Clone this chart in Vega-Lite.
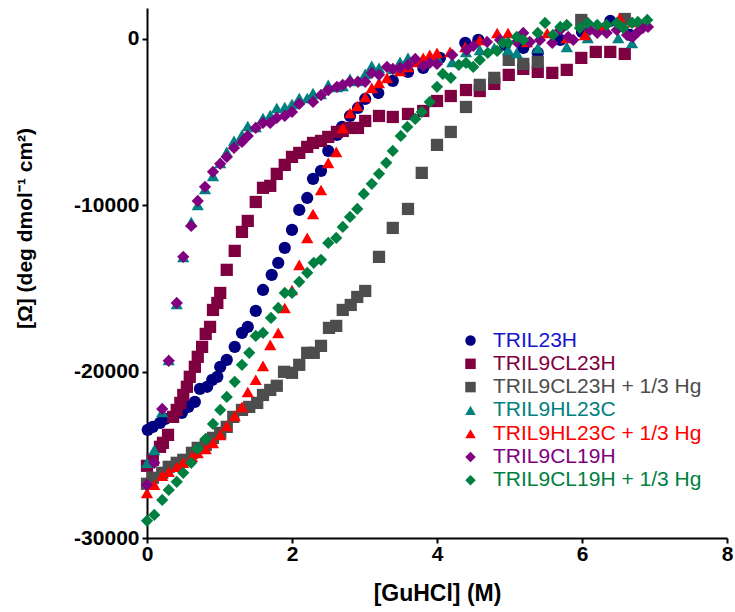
{
"$schema": "https://vega.github.io/schema/vega-lite/v6.json",
"width": 580, "height": 530,
"autosize": "none",
"padding": {"left": 147, "top": 8, "right": 8, "bottom": 74},
"background": "white",
"config": {"view": {"stroke": null}, "font": "Liberation Sans"},
"datasets": {"d": [
{"s":"TRIL23H","x":0.01,"y":-23500},{"s":"TRIL23H","x":0.08,"y":-23320},{"s":"TRIL23H","x":0.18,"y":-23080},{"s":"TRIL23H","x":0.25,"y":-22840},{"s":"TRIL23H","x":0.36,"y":-22720},{"s":"TRIL23H","x":0.48,"y":-22480},{"s":"TRIL23H","x":0.57,"y":-22120},{"s":"TRIL23H","x":0.66,"y":-21820},{"s":"TRIL23H","x":0.73,"y":-21040},{"s":"TRIL23H","x":0.83,"y":-20910},{"s":"TRIL23H","x":0.90,"y":-20490},{"s":"TRIL23H","x":0.97,"y":-20310},{"s":"TRIL23H","x":1.01,"y":-19710},{"s":"TRIL23H","x":1.10,"y":-19290},{"s":"TRIL23H","x":1.21,"y":-18510},{"s":"TRIL23H","x":1.31,"y":-17670},{"s":"TRIL23H","x":1.39,"y":-17310},{"s":"TRIL23H","x":1.50,"y":-16350},{"s":"TRIL23H","x":1.60,"y":-15090},{"s":"TRIL23H","x":1.72,"y":-14180},{"s":"TRIL23H","x":1.81,"y":-13460},{"s":"TRIL23H","x":1.90,"y":-12560},{"s":"TRIL23H","x":2.00,"y":-11480},{"s":"TRIL23H","x":2.10,"y":-10280},{"s":"TRIL23H","x":2.21,"y":-9560},{"s":"TRIL23H","x":2.29,"y":-8410},{"s":"TRIL23H","x":2.40,"y":-7930},{"s":"TRIL23H","x":2.50,"y":-6730},{"s":"TRIL23H","x":2.62,"y":-5770},{"s":"TRIL23H","x":2.69,"y":-5290},{"s":"TRIL23H","x":2.80,"y":-4630},{"s":"TRIL23H","x":2.91,"y":-4150},{"s":"TRIL23H","x":3.01,"y":-3610},{"s":"TRIL23H","x":3.19,"y":-3250},{"s":"TRIL23H","x":3.39,"y":-2520},{"s":"TRIL23H","x":3.60,"y":-1980},{"s":"TRIL23H","x":3.81,"y":-1740},{"s":"TRIL23H","x":4.04,"y":-1140},{"s":"TRIL23H","x":4.39,"y":-240},{"s":"TRIL23H","x":4.57,"y":-60},{"s":"TRIL23H","x":4.94,"y":-360},{"s":"TRIL23H","x":5.19,"y":-540},{"s":"TRIL23H","x":5.39,"y":-840},{"s":"TRIL23H","x":5.70,"y":-60},{"s":"TRIL23H","x":6.00,"y":420},{"s":"TRIL23H","x":6.39,"y":1080},{"s":"TRIL23H","x":6.66,"y":240},
{"s":"TRIL9CL23H","x":0.00,"y":-25660},{"s":"TRIL9CL23H","x":0.08,"y":-25300},{"s":"TRIL9CL23H","x":0.18,"y":-24520},{"s":"TRIL9CL23H","x":0.22,"y":-24280},{"s":"TRIL9CL23H","x":0.29,"y":-23800},{"s":"TRIL9CL23H","x":0.36,"y":-22720},{"s":"TRIL9CL23H","x":0.41,"y":-22300},{"s":"TRIL9CL23H","x":0.46,"y":-21880},{"s":"TRIL9CL23H","x":0.50,"y":-21400},{"s":"TRIL9CL23H","x":0.55,"y":-20910},{"s":"TRIL9CL23H","x":0.59,"y":-20310},{"s":"TRIL9CL23H","x":0.66,"y":-19710},{"s":"TRIL9CL23H","x":0.70,"y":-19110},{"s":"TRIL9CL23H","x":0.76,"y":-18510},{"s":"TRIL9CL23H","x":0.81,"y":-17730},{"s":"TRIL9CL23H","x":0.87,"y":-17310},{"s":"TRIL9CL23H","x":0.91,"y":-16290},{"s":"TRIL9CL23H","x":0.97,"y":-15870},{"s":"TRIL9CL23H","x":1.01,"y":-15270},{"s":"TRIL9CL23H","x":1.10,"y":-13880},{"s":"TRIL9CL23H","x":1.21,"y":-12740},{"s":"TRIL9CL23H","x":1.31,"y":-11600},{"s":"TRIL9CL23H","x":1.39,"y":-10940},{"s":"TRIL9CL23H","x":1.50,"y":-9800},{"s":"TRIL9CL23H","x":1.60,"y":-8950},{"s":"TRIL9CL23H","x":1.70,"y":-8830},{"s":"TRIL9CL23H","x":1.79,"y":-8110},{"s":"TRIL9CL23H","x":1.90,"y":-7570},{"s":"TRIL9CL23H","x":2.00,"y":-7090},{"s":"TRIL9CL23H","x":2.10,"y":-6850},{"s":"TRIL9CL23H","x":2.21,"y":-6490},{"s":"TRIL9CL23H","x":2.29,"y":-6250},{"s":"TRIL9CL23H","x":2.40,"y":-6130},{"s":"TRIL9CL23H","x":2.50,"y":-5890},{"s":"TRIL9CL23H","x":2.62,"y":-5590},{"s":"TRIL9CL23H","x":2.70,"y":-5530},{"s":"TRIL9CL23H","x":2.80,"y":-5350},{"s":"TRIL9CL23H","x":2.91,"y":-5350},{"s":"TRIL9CL23H","x":3.01,"y":-4930},{"s":"TRIL9CL23H","x":3.20,"y":-4630},{"s":"TRIL9CL23H","x":3.39,"y":-4690},{"s":"TRIL9CL23H","x":3.60,"y":-4510},{"s":"TRIL9CL23H","x":3.81,"y":-4330},{"s":"TRIL9CL23H","x":4.00,"y":-3730},{"s":"TRIL9CL23H","x":4.19,"y":-3430},{"s":"TRIL9CL23H","x":4.40,"y":-3070},{"s":"TRIL9CL23H","x":4.59,"y":-3130},{"s":"TRIL9CL23H","x":4.79,"y":-2700},{"s":"TRIL9CL23H","x":4.99,"y":-2160},{"s":"TRIL9CL23H","x":5.19,"y":-1800},{"s":"TRIL9CL23H","x":5.39,"y":-1980},{"s":"TRIL9CL23H","x":5.59,"y":-2040},{"s":"TRIL9CL23H","x":5.79,"y":-1860},{"s":"TRIL9CL23H","x":5.99,"y":-1140},{"s":"TRIL9CL23H","x":6.19,"y":-780},{"s":"TRIL9CL23H","x":6.39,"y":-780},{"s":"TRIL9CL23H","x":6.59,"y":-900},
{"s":"TRIL9CL23H + 1/3 Hg","x":0.00,"y":-26740},{"s":"TRIL9CL23H + 1/3 Hg","x":0.08,"y":-26380},{"s":"TRIL9CL23H + 1/3 Hg","x":0.21,"y":-26080},{"s":"TRIL9CL23H + 1/3 Hg","x":0.30,"y":-25720},{"s":"TRIL9CL23H + 1/3 Hg","x":0.41,"y":-25480},{"s":"TRIL9CL23H + 1/3 Hg","x":0.50,"y":-25300},{"s":"TRIL9CL23H + 1/3 Hg","x":0.62,"y":-24880},{"s":"TRIL9CL23H + 1/3 Hg","x":0.70,"y":-24580},{"s":"TRIL9CL23H + 1/3 Hg","x":0.81,"y":-24400},{"s":"TRIL9CL23H + 1/3 Hg","x":0.91,"y":-23980},{"s":"TRIL9CL23H + 1/3 Hg","x":1.01,"y":-23680},{"s":"TRIL9CL23H + 1/3 Hg","x":1.10,"y":-23320},{"s":"TRIL9CL23H + 1/3 Hg","x":1.19,"y":-22720},{"s":"TRIL9CL23H + 1/3 Hg","x":1.31,"y":-22300},{"s":"TRIL9CL23H + 1/3 Hg","x":1.41,"y":-22120},{"s":"TRIL9CL23H + 1/3 Hg","x":1.52,"y":-21880},{"s":"TRIL9CL23H + 1/3 Hg","x":1.60,"y":-21400},{"s":"TRIL9CL23H + 1/3 Hg","x":1.70,"y":-21100},{"s":"TRIL9CL23H + 1/3 Hg","x":1.79,"y":-20850},{"s":"TRIL9CL23H + 1/3 Hg","x":1.89,"y":-20010},{"s":"TRIL9CL23H + 1/3 Hg","x":2.00,"y":-20070},{"s":"TRIL9CL23H + 1/3 Hg","x":2.10,"y":-19590},{"s":"TRIL9CL23H + 1/3 Hg","x":2.21,"y":-18870},{"s":"TRIL9CL23H + 1/3 Hg","x":2.30,"y":-18870},{"s":"TRIL9CL23H + 1/3 Hg","x":2.40,"y":-18450},{"s":"TRIL9CL23H + 1/3 Hg","x":2.51,"y":-17370},{"s":"TRIL9CL23H + 1/3 Hg","x":2.61,"y":-17250},{"s":"TRIL9CL23H + 1/3 Hg","x":2.70,"y":-16290},{"s":"TRIL9CL23H + 1/3 Hg","x":2.81,"y":-15990},{"s":"TRIL9CL23H + 1/3 Hg","x":2.90,"y":-15510},{"s":"TRIL9CL23H + 1/3 Hg","x":3.01,"y":-15150},{"s":"TRIL9CL23H + 1/3 Hg","x":3.20,"y":-13100},{"s":"TRIL9CL23H + 1/3 Hg","x":3.39,"y":-11360},{"s":"TRIL9CL23H + 1/3 Hg","x":3.60,"y":-10220},{"s":"TRIL9CL23H + 1/3 Hg","x":3.79,"y":-8050},{"s":"TRIL9CL23H + 1/3 Hg","x":4.00,"y":-6370},{"s":"TRIL9CL23H + 1/3 Hg","x":4.19,"y":-5590},{"s":"TRIL9CL23H + 1/3 Hg","x":4.40,"y":-4090},{"s":"TRIL9CL23H + 1/3 Hg","x":4.59,"y":-2760},{"s":"TRIL9CL23H + 1/3 Hg","x":4.79,"y":-2340},{"s":"TRIL9CL23H + 1/3 Hg","x":4.99,"y":-1260},{"s":"TRIL9CL23H + 1/3 Hg","x":5.19,"y":-1500},{"s":"TRIL9CL23H + 1/3 Hg","x":5.39,"y":-1380},{"s":"TRIL9CL23H + 1/3 Hg","x":5.99,"y":1140},{"s":"TRIL9CL23H + 1/3 Hg","x":6.59,"y":1200},
{"s":"TRIL9HL23C","x":0.00,"y":-25480},{"s":"TRIL9HL23C","x":0.10,"y":-24700},{"s":"TRIL9HL23C","x":0.21,"y":-22420},{"s":"TRIL9HL23C","x":0.30,"y":-19290},{"s":"TRIL9HL23C","x":0.41,"y":-15930},{"s":"TRIL9HL23C","x":0.50,"y":-13100},{"s":"TRIL9HL23C","x":0.61,"y":-11000},{"s":"TRIL9HL23C","x":0.70,"y":-9980},{"s":"TRIL9HL23C","x":0.80,"y":-9020},{"s":"TRIL9HL23C","x":0.91,"y":-8230},{"s":"TRIL9HL23C","x":1.01,"y":-7450},{"s":"TRIL9HL23C","x":1.10,"y":-6790},{"s":"TRIL9HL23C","x":1.20,"y":-6130},{"s":"TRIL9HL23C","x":1.31,"y":-5770},{"s":"TRIL9HL23C","x":1.39,"y":-5230},{"s":"TRIL9HL23C","x":1.50,"y":-5290},{"s":"TRIL9HL23C","x":1.60,"y":-4750},{"s":"TRIL9HL23C","x":1.70,"y":-4570},{"s":"TRIL9HL23C","x":1.79,"y":-4150},{"s":"TRIL9HL23C","x":1.90,"y":-4090},{"s":"TRIL9HL23C","x":2.00,"y":-3910},{"s":"TRIL9HL23C","x":2.10,"y":-3550},{"s":"TRIL9HL23C","x":2.21,"y":-3550},{"s":"TRIL9HL23C","x":2.29,"y":-3250},{"s":"TRIL9HL23C","x":2.40,"y":-3310},{"s":"TRIL9HL23C","x":2.50,"y":-2760},{"s":"TRIL9HL23C","x":2.62,"y":-2880},{"s":"TRIL9HL23C","x":2.70,"y":-2820},{"s":"TRIL9HL23C","x":2.80,"y":-2400},{"s":"TRIL9HL23C","x":2.90,"y":-2520},{"s":"TRIL9HL23C","x":3.01,"y":-2100},{"s":"TRIL9HL23C","x":3.10,"y":-1620},{"s":"TRIL9HL23C","x":3.20,"y":-1740},{"s":"TRIL9HL23C","x":3.39,"y":-1800},{"s":"TRIL9HL23C","x":3.49,"y":-1380},{"s":"TRIL9HL23C","x":3.60,"y":-1140},{"s":"TRIL9HL23C","x":3.81,"y":-1440},{"s":"TRIL9HL23C","x":4.00,"y":-1140},{"s":"TRIL9HL23C","x":4.21,"y":-1380},{"s":"TRIL9HL23C","x":4.40,"y":-780},{"s":"TRIL9HL23C","x":4.59,"y":-660},{"s":"TRIL9HL23C","x":4.79,"y":-540},{"s":"TRIL9HL23C","x":4.98,"y":-660},{"s":"TRIL9HL23C","x":5.10,"y":-840},{"s":"TRIL9HL23C","x":5.39,"y":-540},{"s":"TRIL9HL23C","x":5.79,"y":-480},{"s":"TRIL9HL23C","x":6.08,"y":60},{"s":"TRIL9HL23C","x":6.50,"y":60},{"s":"TRIL9HL23C","x":6.69,"y":-240},
{"s":"TRIL9HL23C + 1/3 Hg","x":0.00,"y":-27290},{"s":"TRIL9HL23C + 1/3 Hg","x":0.10,"y":-26800},{"s":"TRIL9HL23C + 1/3 Hg","x":0.21,"y":-26260},{"s":"TRIL9HL23C + 1/3 Hg","x":0.30,"y":-26020},{"s":"TRIL9HL23C + 1/3 Hg","x":0.41,"y":-25720},{"s":"TRIL9HL23C + 1/3 Hg","x":0.50,"y":-25480},{"s":"TRIL9HL23C + 1/3 Hg","x":0.62,"y":-25120},{"s":"TRIL9HL23C + 1/3 Hg","x":0.70,"y":-24880},{"s":"TRIL9HL23C + 1/3 Hg","x":0.81,"y":-24640},{"s":"TRIL9HL23C + 1/3 Hg","x":0.91,"y":-24280},{"s":"TRIL9HL23C + 1/3 Hg","x":1.01,"y":-23800},{"s":"TRIL9HL23C + 1/3 Hg","x":1.10,"y":-23260},{"s":"TRIL9HL23C + 1/3 Hg","x":1.21,"y":-22660},{"s":"TRIL9HL23C + 1/3 Hg","x":1.31,"y":-22120},{"s":"TRIL9HL23C + 1/3 Hg","x":1.39,"y":-21220},{"s":"TRIL9HL23C + 1/3 Hg","x":1.50,"y":-20490},{"s":"TRIL9HL23C + 1/3 Hg","x":1.60,"y":-19650},{"s":"TRIL9HL23C + 1/3 Hg","x":1.70,"y":-18390},{"s":"TRIL9HL23C + 1/3 Hg","x":1.81,"y":-17670},{"s":"TRIL9HL23C + 1/3 Hg","x":1.90,"y":-16170},{"s":"TRIL9HL23C + 1/3 Hg","x":2.00,"y":-15090},{"s":"TRIL9HL23C + 1/3 Hg","x":2.10,"y":-13580},{"s":"TRIL9HL23C + 1/3 Hg","x":2.21,"y":-11960},{"s":"TRIL9HL23C + 1/3 Hg","x":2.29,"y":-10520},{"s":"TRIL9HL23C + 1/3 Hg","x":2.40,"y":-9080},{"s":"TRIL9HL23C + 1/3 Hg","x":2.50,"y":-7450},{"s":"TRIL9HL23C + 1/3 Hg","x":2.61,"y":-6790},{"s":"TRIL9HL23C + 1/3 Hg","x":2.70,"y":-5350},{"s":"TRIL9HL23C + 1/3 Hg","x":2.80,"y":-4450},{"s":"TRIL9HL23C + 1/3 Hg","x":2.90,"y":-4030},{"s":"TRIL9HL23C + 1/3 Hg","x":3.01,"y":-3490},{"s":"TRIL9HL23C + 1/3 Hg","x":3.10,"y":-2940},{"s":"TRIL9HL23C + 1/3 Hg","x":3.20,"y":-2640},{"s":"TRIL9HL23C + 1/3 Hg","x":3.31,"y":-2340},{"s":"TRIL9HL23C + 1/3 Hg","x":3.49,"y":-1920},{"s":"TRIL9HL23C + 1/3 Hg","x":3.60,"y":-1680},{"s":"TRIL9HL23C + 1/3 Hg","x":3.70,"y":-1380},{"s":"TRIL9HL23C + 1/3 Hg","x":3.81,"y":-1140},{"s":"TRIL9HL23C + 1/3 Hg","x":3.90,"y":-960},{"s":"TRIL9HL23C + 1/3 Hg","x":4.00,"y":-840},{"s":"TRIL9HL23C + 1/3 Hg","x":4.18,"y":-780},{"s":"TRIL9HL23C + 1/3 Hg","x":4.39,"y":-480},{"s":"TRIL9HL23C + 1/3 Hg","x":4.59,"y":-60},{"s":"TRIL9HL23C + 1/3 Hg","x":4.83,"y":360},{"s":"TRIL9HL23C + 1/3 Hg","x":4.98,"y":360},{"s":"TRIL9HL23C + 1/3 Hg","x":5.24,"y":-180},{"s":"TRIL9HL23C + 1/3 Hg","x":5.52,"y":360},{"s":"TRIL9HL23C + 1/3 Hg","x":5.79,"y":60},{"s":"TRIL9HL23C + 1/3 Hg","x":6.04,"y":240},{"s":"TRIL9HL23C + 1/3 Hg","x":6.29,"y":720},{"s":"TRIL9HL23C + 1/3 Hg","x":6.52,"y":1260},{"s":"TRIL9HL23C + 1/3 Hg","x":6.70,"y":1020},
{"s":"TRIL9CL19H","x":0.00,"y":-26800},{"s":"TRIL9CL19H","x":0.10,"y":-25480},{"s":"TRIL9CL19H","x":0.21,"y":-22240},{"s":"TRIL9CL19H","x":0.30,"y":-19350},{"s":"TRIL9CL19H","x":0.41,"y":-15870},{"s":"TRIL9CL19H","x":0.50,"y":-13100},{"s":"TRIL9CL19H","x":0.61,"y":-11240},{"s":"TRIL9CL19H","x":0.70,"y":-9740},{"s":"TRIL9CL19H","x":0.80,"y":-8890},{"s":"TRIL9CL19H","x":0.91,"y":-7990},{"s":"TRIL9CL19H","x":1.01,"y":-7510},{"s":"TRIL9CL19H","x":1.10,"y":-7090},{"s":"TRIL9CL19H","x":1.20,"y":-6550},{"s":"TRIL9CL19H","x":1.31,"y":-6190},{"s":"TRIL9CL19H","x":1.39,"y":-5830},{"s":"TRIL9CL19H","x":1.50,"y":-5350},{"s":"TRIL9CL19H","x":1.60,"y":-5050},{"s":"TRIL9CL19H","x":1.70,"y":-5050},{"s":"TRIL9CL19H","x":1.79,"y":-4750},{"s":"TRIL9CL19H","x":1.90,"y":-4630},{"s":"TRIL9CL19H","x":2.00,"y":-4390},{"s":"TRIL9CL19H","x":2.10,"y":-3910},{"s":"TRIL9CL19H","x":2.29,"y":-3790},{"s":"TRIL9CL19H","x":2.40,"y":-3370},{"s":"TRIL9CL19H","x":2.50,"y":-3070},{"s":"TRIL9CL19H","x":2.62,"y":-2880},{"s":"TRIL9CL19H","x":2.70,"y":-2760},{"s":"TRIL9CL19H","x":2.80,"y":-2580},{"s":"TRIL9CL19H","x":2.91,"y":-2580},{"s":"TRIL9CL19H","x":3.01,"y":-2580},{"s":"TRIL9CL19H","x":3.10,"y":-2040},{"s":"TRIL9CL19H","x":3.20,"y":-2160},{"s":"TRIL9CL19H","x":3.31,"y":-1680},{"s":"TRIL9CL19H","x":3.39,"y":-1800},{"s":"TRIL9CL19H","x":3.49,"y":-1740},{"s":"TRIL9CL19H","x":3.60,"y":-1560},{"s":"TRIL9CL19H","x":3.70,"y":-1200},{"s":"TRIL9CL19H","x":3.81,"y":-1620},{"s":"TRIL9CL19H","x":3.90,"y":-1440},{"s":"TRIL9CL19H","x":4.00,"y":-1500},{"s":"TRIL9CL19H","x":4.21,"y":-960},{"s":"TRIL9CL19H","x":4.41,"y":-660},{"s":"TRIL9CL19H","x":4.50,"y":-420},{"s":"TRIL9CL19H","x":4.69,"y":-180},{"s":"TRIL9CL19H","x":4.87,"y":-60},{"s":"TRIL9CL19H","x":5.10,"y":-180},{"s":"TRIL9CL19H","x":5.19,"y":360},{"s":"TRIL9CL19H","x":5.28,"y":-180},{"s":"TRIL9CL19H","x":5.42,"y":-60},{"s":"TRIL9CL19H","x":5.59,"y":-240},{"s":"TRIL9CL19H","x":5.70,"y":540},{"s":"TRIL9CL19H","x":5.81,"y":120},{"s":"TRIL9CL19H","x":5.88,"y":-60},{"s":"TRIL9CL19H","x":6.11,"y":540},{"s":"TRIL9CL19H","x":6.21,"y":360},{"s":"TRIL9CL19H","x":6.34,"y":360},{"s":"TRIL9CL19H","x":6.48,"y":540},{"s":"TRIL9CL19H","x":6.62,"y":240},{"s":"TRIL9CL19H","x":6.70,"y":120},{"s":"TRIL9CL19H","x":6.77,"y":420},{"s":"TRIL9CL19H","x":6.84,"y":660},{"s":"TRIL9CL19H","x":6.91,"y":720},
{"s":"TRIL9CL19H + 1/3 Hg","x":0.00,"y":-28970},{"s":"TRIL9CL19H + 1/3 Hg","x":0.10,"y":-28610},{"s":"TRIL9CL19H + 1/3 Hg","x":0.21,"y":-27710},{"s":"TRIL9CL19H + 1/3 Hg","x":0.30,"y":-27110},{"s":"TRIL9CL19H + 1/3 Hg","x":0.41,"y":-26620},{"s":"TRIL9CL19H + 1/3 Hg","x":0.50,"y":-26080},{"s":"TRIL9CL19H + 1/3 Hg","x":0.61,"y":-25480},{"s":"TRIL9CL19H + 1/3 Hg","x":0.70,"y":-24640},{"s":"TRIL9CL19H + 1/3 Hg","x":0.81,"y":-24040},{"s":"TRIL9CL19H + 1/3 Hg","x":0.91,"y":-23140},{"s":"TRIL9CL19H + 1/3 Hg","x":1.01,"y":-22300},{"s":"TRIL9CL19H + 1/3 Hg","x":1.10,"y":-21520},{"s":"TRIL9CL19H + 1/3 Hg","x":1.21,"y":-20610},{"s":"TRIL9CL19H + 1/3 Hg","x":1.31,"y":-19590},{"s":"TRIL9CL19H + 1/3 Hg","x":1.41,"y":-18870},{"s":"TRIL9CL19H + 1/3 Hg","x":1.50,"y":-17850},{"s":"TRIL9CL19H + 1/3 Hg","x":1.60,"y":-17670},{"s":"TRIL9CL19H + 1/3 Hg","x":1.71,"y":-16770},{"s":"TRIL9CL19H + 1/3 Hg","x":1.81,"y":-16170},{"s":"TRIL9CL19H + 1/3 Hg","x":1.90,"y":-15270},{"s":"TRIL9CL19H + 1/3 Hg","x":2.00,"y":-15270},{"s":"TRIL9CL19H + 1/3 Hg","x":2.10,"y":-14600},{"s":"TRIL9CL19H + 1/3 Hg","x":2.21,"y":-14060},{"s":"TRIL9CL19H + 1/3 Hg","x":2.30,"y":-13460},{"s":"TRIL9CL19H + 1/3 Hg","x":2.40,"y":-13280},{"s":"TRIL9CL19H + 1/3 Hg","x":2.50,"y":-12260},{"s":"TRIL9CL19H + 1/3 Hg","x":2.61,"y":-11960},{"s":"TRIL9CL19H + 1/3 Hg","x":2.70,"y":-11300},{"s":"TRIL9CL19H + 1/3 Hg","x":2.80,"y":-10700},{"s":"TRIL9CL19H + 1/3 Hg","x":2.90,"y":-10220},{"s":"TRIL9CL19H + 1/3 Hg","x":2.99,"y":-9320},{"s":"TRIL9CL19H + 1/3 Hg","x":3.10,"y":-8710},{"s":"TRIL9CL19H + 1/3 Hg","x":3.20,"y":-8110},{"s":"TRIL9CL19H + 1/3 Hg","x":3.30,"y":-7450},{"s":"TRIL9CL19H + 1/3 Hg","x":3.39,"y":-6730},{"s":"TRIL9CL19H + 1/3 Hg","x":3.50,"y":-5830},{"s":"TRIL9CL19H + 1/3 Hg","x":3.59,"y":-5290},{"s":"TRIL9CL19H + 1/3 Hg","x":3.70,"y":-4810},{"s":"TRIL9CL19H + 1/3 Hg","x":3.79,"y":-4390},{"s":"TRIL9CL19H + 1/3 Hg","x":3.90,"y":-3790},{"s":"TRIL9CL19H + 1/3 Hg","x":4.00,"y":-2880},{"s":"TRIL9CL19H + 1/3 Hg","x":4.08,"y":-2100},{"s":"TRIL9CL19H + 1/3 Hg","x":4.19,"y":-2340},{"s":"TRIL9CL19H + 1/3 Hg","x":4.30,"y":-1560},{"s":"TRIL9CL19H + 1/3 Hg","x":4.40,"y":-1440},{"s":"TRIL9CL19H + 1/3 Hg","x":4.50,"y":-1680},{"s":"TRIL9CL19H + 1/3 Hg","x":4.59,"y":-1260},{"s":"TRIL9CL19H + 1/3 Hg","x":4.70,"y":-840},{"s":"TRIL9CL19H + 1/3 Hg","x":4.83,"y":-720},{"s":"TRIL9CL19H + 1/3 Hg","x":4.91,"y":-240},{"s":"TRIL9CL19H + 1/3 Hg","x":4.98,"y":-240},{"s":"TRIL9CL19H + 1/3 Hg","x":5.10,"y":120},{"s":"TRIL9CL19H + 1/3 Hg","x":5.19,"y":-60},{"s":"TRIL9CL19H + 1/3 Hg","x":5.39,"y":360},{"s":"TRIL9CL19H + 1/3 Hg","x":5.49,"y":960},{"s":"TRIL9CL19H + 1/3 Hg","x":5.60,"y":240},{"s":"TRIL9CL19H + 1/3 Hg","x":5.70,"y":720},{"s":"TRIL9CL19H + 1/3 Hg","x":5.79,"y":840},{"s":"TRIL9CL19H + 1/3 Hg","x":5.97,"y":660},{"s":"TRIL9CL19H + 1/3 Hg","x":6.08,"y":960},{"s":"TRIL9CL19H + 1/3 Hg","x":6.21,"y":840},{"s":"TRIL9CL19H + 1/3 Hg","x":6.34,"y":840},{"s":"TRIL9CL19H + 1/3 Hg","x":6.48,"y":960},{"s":"TRIL9CL19H + 1/3 Hg","x":6.57,"y":660},{"s":"TRIL9CL19H + 1/3 Hg","x":6.69,"y":960},{"s":"TRIL9CL19H + 1/3 Hg","x":6.77,"y":1020},{"s":"TRIL9CL19H + 1/3 Hg","x":6.90,"y":1140}
]},
"data": {"name": "d"},
"mark": {"type": "point", "filled": true, "opacity": 1, "size": 150},
"encoding": {
  "x": {"field": "x", "type": "quantitative",
    "scale": {"domain": [0, 8], "nice": false, "zero": false},
    "axis": {"values": [0, 2, 4, 6, 8], "grid": false, "title": "[GuHCl] (M)",
      "labelFont": "Liberation Sans", "labelFontSize": 21, "labelFontWeight": "bold", "labelColor": "black",
      "titleFont": "Liberation Sans", "titleFontSize": 23, "titleFontWeight": "bold", "titleColor": "black",
      "domainColor": "black", "domainWidth": 2, "tickColor": "black", "tickWidth": 2, "tickSize": 5,
      "labelPadding": 0, "titlePadding": 18, "labelFlush": false}},
  "y": {"field": "y", "type": "quantitative",
    "scale": {"domain": [-30000, 1860], "nice": false, "zero": false},
    "axis": {"values": [-30000, -20000, -10000, 0], "grid": false, "title": "[Ω] (deg dmol⁻¹ cm²)",
      "labelExpr": "(datum.value < 0 ? '-' : '') + format(abs(datum.value), 'd')",
      "labelFont": "Liberation Sans", "labelFontSize": 21, "labelFontWeight": "bold", "labelColor": "black",
      "titleFont": "Liberation Sans", "titleFontSize": 21, "titleFontWeight": "bold", "titleColor": "black",
      "domainColor": "black", "domainWidth": 2, "tickColor": "black", "tickWidth": 2, "tickSize": 5,
      "labelPadding": 3, "titleX": -122, "titleY": 220, "titleBaseline": "middle", "titleAlign": "center", "titleAngle": -90, "labelFlush": false}},
  "color": {"field": "s", "type": "nominal",
    "scale": {"domain": ["TRIL23H", "TRIL9CL23H", "TRIL9CL23H + 1/3 Hg", "TRIL9HL23C", "TRIL9HL23C + 1/3 Hg", "TRIL9CL19H", "TRIL9CL19H + 1/3 Hg"],
      "range": ["#000080", "#7F0040", "#4D4D4D", "#008080", "#FF0000", "#800080", "#008040"]},
    "legend": {"orient": "none", "legendX": 313, "legendY": 322, "title": null, "padding": 0,
      "labelFont": "Liberation Sans", "labelFontSize": 21, "labelLimit": 400, "symbolSize": 110, "labelOffset": 12, "rowPadding": 1.3,
      "symbolStrokeWidth": 0,
      "labelColor": {"expr": "datum.value === 'TRIL23H' ? '#1515CC' : datum.value === 'TRIL9CL23H' ? '#7F0040' : datum.value === 'TRIL9CL23H + 1/3 Hg' ? '#4D4D4D' : datum.value === 'TRIL9HL23C' ? '#008080' : datum.value === 'TRIL9HL23C + 1/3 Hg' ? '#FF0000' : datum.value === 'TRIL9CL19H' ? '#800080' : '#008040'"}}},
  "shape": {"field": "s", "type": "nominal",
    "scale": {"domain": ["TRIL23H", "TRIL9CL23H", "TRIL9CL23H + 1/3 Hg", "TRIL9HL23C", "TRIL9HL23C + 1/3 Hg", "TRIL9CL19H", "TRIL9CL19H + 1/3 Hg"],
      "range": ["circle", "square", "square", "triangle-up", "triangle-up", "diamond", "diamond"]},
    "legend": {"orient": "none", "legendX": 313, "legendY": 322, "title": null, "padding": 0,
      "labelFont": "Liberation Sans", "labelFontSize": 21, "labelLimit": 400, "symbolSize": 110, "labelOffset": 12, "rowPadding": 1.3,
      "symbolStrokeWidth": 0,
      "labelColor": {"expr": "datum.value === 'TRIL23H' ? '#1515CC' : datum.value === 'TRIL9CL23H' ? '#7F0040' : datum.value === 'TRIL9CL23H + 1/3 Hg' ? '#4D4D4D' : datum.value === 'TRIL9HL23C' ? '#008080' : datum.value === 'TRIL9HL23C + 1/3 Hg' ? '#FF0000' : datum.value === 'TRIL9CL19H' ? '#800080' : '#008040'"}}}
}
}
